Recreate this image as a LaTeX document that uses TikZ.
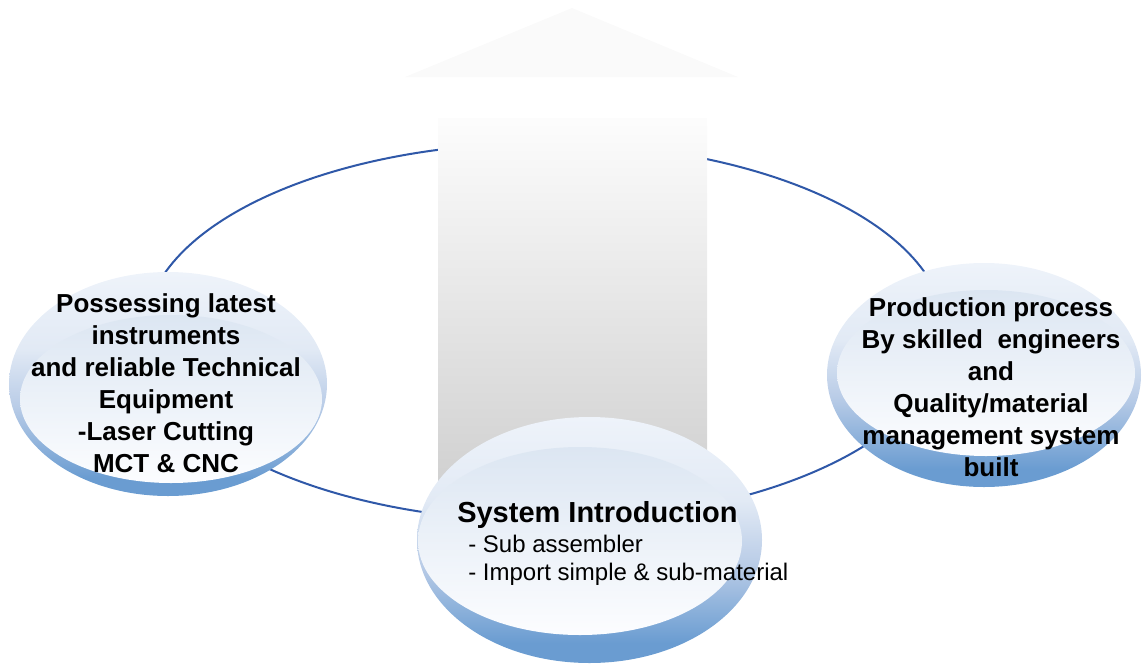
\documentclass[tikz,border=0pt]{standalone}
\usepackage{fontspec}
\setmainfont{Liberation Sans}
\definecolor{ringblue}{HTML}{2F58A8}
\definecolor{rimtop}{HTML}{EEF3FA}
\definecolor{rimup}{HTML}{E2EAF5}
\definecolor{rimmid}{HTML}{B9CCE7}
\definecolor{rimbot}{HTML}{6A9CD1}
\definecolor{facetop}{HTML}{DCE6F2}
\definecolor{facebot}{HTML}{FCFDFF}
\pgfdeclareverticalshading{rimshade}{100bp}{color(0bp)=(rimbot); color(29bp)=(rimbot); color(45bp)=(rimmid); color(58bp)=(rimup); color(75bp)=(rimtop); color(100bp)=(rimtop)}
\tikzset{
  rim/.style={shading=rimshade},
  face/.style={top color=facetop, bottom color=facebot},
  bigtxt/.style={align=center, font=\bfseries\fontsize{19.5}{24}\selectfont, inner sep=0pt},
}
\begin{document}
\begin{tikzpicture}[x=0.75pt,y=-0.75pt]
\useasboundingbox (0,0) rectangle (1142,664);
% ring
\draw[ringblue, line width=1.5pt] (545,332) ellipse [x radius=400, y radius=189];
% arrow
\fill[fill=black!2] (405,77) -- (572,8) -- (738,77) -- cycle;
\shade[top color=black!1, middle color=black!7, bottom color=black!19] (438,118) rectangle (707,500);
% left disc
\shade[rim] (168,384) ellipse [x radius=159, y radius=112];
\shade[face] (171,399) ellipse [x radius=151, y radius=84];
% right disc
\shade[rim] (984,375) ellipse [x radius=157, y radius=112];
\shade[face] (986,373) ellipse [x radius=149, y radius=83];
% bottom disc
\shade[rim] (589.5,540) ellipse [x radius=172.5, y radius=123];
\shade[face] (580,541) ellipse [x radius=162, y radius=94];
% texts
\node[bigtxt] (left) at (166,383) {Possessing latest\\instruments\\and reliable Technical\\Equipment\\-Laser Cutting\\MCT \& CNC};
\node[bigtxt] (right) at (991,387) {Production process\\By skilled\ \ engineers\\and\\Quality/material\\management system\\built};
\node[anchor=base west, inner sep=0pt, font=\bfseries\fontsize{21.75}{26}\selectfont] (title) at (457,522) {System Introduction};
\node[anchor=base west, inner sep=0pt, align=left, font=\fontsize{18}{21}\selectfont] (sub1) at (468,552) {- Sub assembler};
\node[anchor=base west, inner sep=0pt, align=left, font=\fontsize{18}{21}\selectfont] (sub2) at (468,580) {- Import simple \& sub-material};
\end{tikzpicture}
\end{document}
